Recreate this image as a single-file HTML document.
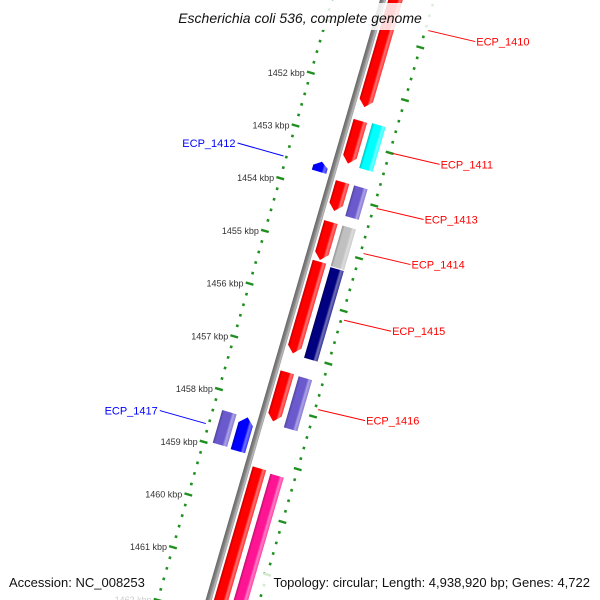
<!DOCTYPE html>
<html><head><meta charset="utf-8">
<style>
html,body{margin:0;padding:0;background:#fff;width:600px;height:600px;overflow:hidden;}
svg{display:block;font-family:"Liberation Sans",sans-serif;overflow:hidden;}
</style></head>
<body>
<svg id="map" width="600" height="600" viewBox="0 0 600 600">
<defs id="defs"></defs>
<g id="rot" transform="translate(383,0) rotate(16.2)"></g>
<g id="screen"></g>
<g>
<rect x="160" y="3" width="280" height="27" fill="#fff" fill-opacity="0.85"/>
<text x="300" y="23" text-anchor="middle" font-size="14" font-style="italic" fill="#111">Escherichia coli 536, complete genome</text>
</g>
<g>
<rect x="5" y="573" width="142" height="20" fill="#fff" fill-opacity="0.8"/>
<text x="9" y="587" font-size="13" fill="#111">Accession: NC_008253</text>
<rect x="258" y="573" width="336" height="20" fill="#fff" fill-opacity="0.8"/>
<text x="590" y="587" text-anchor="end" font-size="13" fill="#111">Topology: circular; Length: 4,938,920 bp; Genes: 4,722</text>
</g>
</svg>
<script>
// ---- data ----
const geneNames  = ["ECP_1410","ECP_1411a","ECP_1411","ECP_1412","ECP_1413a","ECP_1413","ECP_1414a","ECP_1414","ECP_1415a","ECP_1415","ECP_1416a","ECP_1416","ECP_1417a","ECP_1417","ECP_1418","ECP_1419"];
const geneStart  = [1449.0, 1452.59, 1452.57, 1453.50, 1453.75, 1453.75, 1454.51, 1454.51, 1455.26, 1455.30, 1457.36, 1457.37, 1458.35, 1458.35, 1459.18, 1459.22];
const geneEnd    = [1452.33,1453.40, 1453.42, 1453.69, 1454.30, 1454.33, 1455.23, 1455.28, 1457.00, 1457.02, 1458.29, 1458.34, 1458.97, 1458.99, 1463.5, 1463.5];
const geneTrack  = [1,1,2,-1,1,2,1,2,1,2,1,2,-2,-1,1,2];
const geneStrand = [1,1,0,-1,1,0,1,0,1,0,1,0,0,-1,1,0];
const geneColor  = ["#ff0000","#ff0000","#00ffff","#0000ff","#ff0000","#6a5acd","#ff0000","#c0c0c0","#ff0000","#000080","#ff0000","#6a5acd","#6a5acd","#0000ff","#ff0000","#ff1493"];
const labelNames = ["ECP_1410","ECP_1411","ECP_1412","ECP_1413","ECP_1414","ECP_1415","ECP_1416","ECP_1417"];
const labelGene  = [0,2,3,5,7,9,11,13];
const tickKbp    = [1452,1453,1454,1455,1456,1457,1458,1459,1460,1461,1462];
const axisStart = 1449.8, axisEnd = 1463.6, minorStep = 0.2;

// ---- scales ----
const Y0 = 90, PX_PER_KBP = 54.9, ANG = 16.2*Math.PI/180;
const yScale = k => Y0 + (k-1452)*PX_PER_KBP;
const trackX = {1:[5,19],2:[24,38],"-1":[-21,-6],"-2":[-40,-25]};
const RING = 49;
function toScreen(lx,ly){return [383+lx*Math.cos(ANG)-ly*Math.sin(ANG), lx*Math.sin(ANG)+ly*Math.cos(ANG)];}
const NS="http://www.w3.org/2000/svg";
const rot=document.getElementById('rot'), scr=document.getElementById('screen'), defs=document.getElementById('defs');
function mk(tag,attrs,parent){const e=document.createElementNS(NS,tag);for(const k in attrs)e.setAttribute(k,attrs[k]);parent.appendChild(e);return e;}
function shade(hex,f){let n=parseInt(hex.slice(1),16);let r=n>>16,g=(n>>8)&255,b=n&255;
 const m=c=>f<0?Math.round(c*(1+f)):Math.round(c+(255-c)*f);return `rgb(${m(r)},${m(g)},${m(b)})`;}

// backbone
const bg=mk('linearGradient',{id:'bb',x1:0,x2:1,y1:0,y2:0},defs);
[[0,'#666'],[0.5,'#888'],[0.8,'#bbb'],[1,'#999']].forEach(s=>mk('stop',{offset:s[0],'stop-color':s[1]},bg));
const bb=mk('rect',{x:-3,y:-40,width:6,height:680,fill:'url(#bb)'},rot);



// ticks rings
for(let k=axisStart;k<=axisEnd+1e-6;k+=minorStep){
  const kr=Math.round(k*10)/10;
  const major=Math.abs(kr-Math.round(kr))<1e-6;
  [-RING,RING].forEach(rx=>{
    let e;
    if(major){e=mk('rect',{x:rx-4,y:yScale(kr)-1.2,width:8,height:2.4,fill:'#1f8f1f'},rot);
      }
    else{e=mk('rect',{x:rx-1.3,y:yScale(kr)-1.3,width:2.6,height:2.6,fill:'#1f8f1f'},rot);
      }
    
  });
}
// tick labels
tickKbp.forEach(k=>{
  const p=toScreen(-RING,yScale(k));
  const t=mk('text',{x:p[0]-6,y:p[1]+3,'text-anchor':'end','font-size':9,fill:k===1462?'#ccc':'#333'},scr);
  t.textContent=k+' kbp';
  
  
});

// genes
geneNames.forEach((n,i)=>{
  const col=geneColor[i];
  const gid='g'+i;
  const gr=mk('linearGradient',{id:gid,x1:0,x2:1,y1:0,y2:0},defs);
  [[0,shade(col,-0.25)],[0.18,col],[0.65,col],[0.8,shade(col,0.45)],[1,shade(col,0.2)]].forEach(s=>mk('stop',{offset:s[0],'stop-color':s[1]},gr));
  const [x0,x1]=trackX[geneTrack[i]];
  const y0=yScale(geneStart[i]), y1=yScale(geneEnd[i]);
  const xm=(x0+x1)/2, h=Math.min(7,(y1-y0)*0.5);
  let pts;
  if(geneStrand[i]===1) pts=[[x0,y0],[x1,y0],[x1,y1-h],[xm,y1],[x0,y1-h]];
  else if(geneStrand[i]===-1) pts=[[xm,y0],[x1,y0+h],[x1,y1],[x0,y1],[x0,y0+h]];
  else pts=[[x0,y0],[x1,y0],[x1,y1],[x0,y1]];
  const p=mk('polygon',{points:pts.map(q=>q.join(',')).join(' '),fill:`url(#${gid})`},rot);
  
  
});

// labels
labelNames.forEach((n,j)=>{
  const i=labelGene[j];
  const side=geneTrack[i]>0?1:-1;
  const mid=yScale((geneStart[i]+geneEnd[i])/2);
  const s=toScreen(side*(RING+3),mid);
  const col=side>0?'#ff0000':'#0000ff';
  const e=side>0?[s[0]+47,s[1]+11]:[s[0]-46,s[1]-13];
  const l=mk('line',{x1:s[0],y1:s[1],x2:e[0],y2:e[1],stroke:col,'stroke-width':1},scr);
  
  
  const t=mk('text',{x:side>0?e[0]+1:e[0]-2,y:e[1]+4,'text-anchor':side>0?'start':'end','font-size':11,fill:col},scr);
  t.textContent=n;
  
  
});
</script>
</body></html>
